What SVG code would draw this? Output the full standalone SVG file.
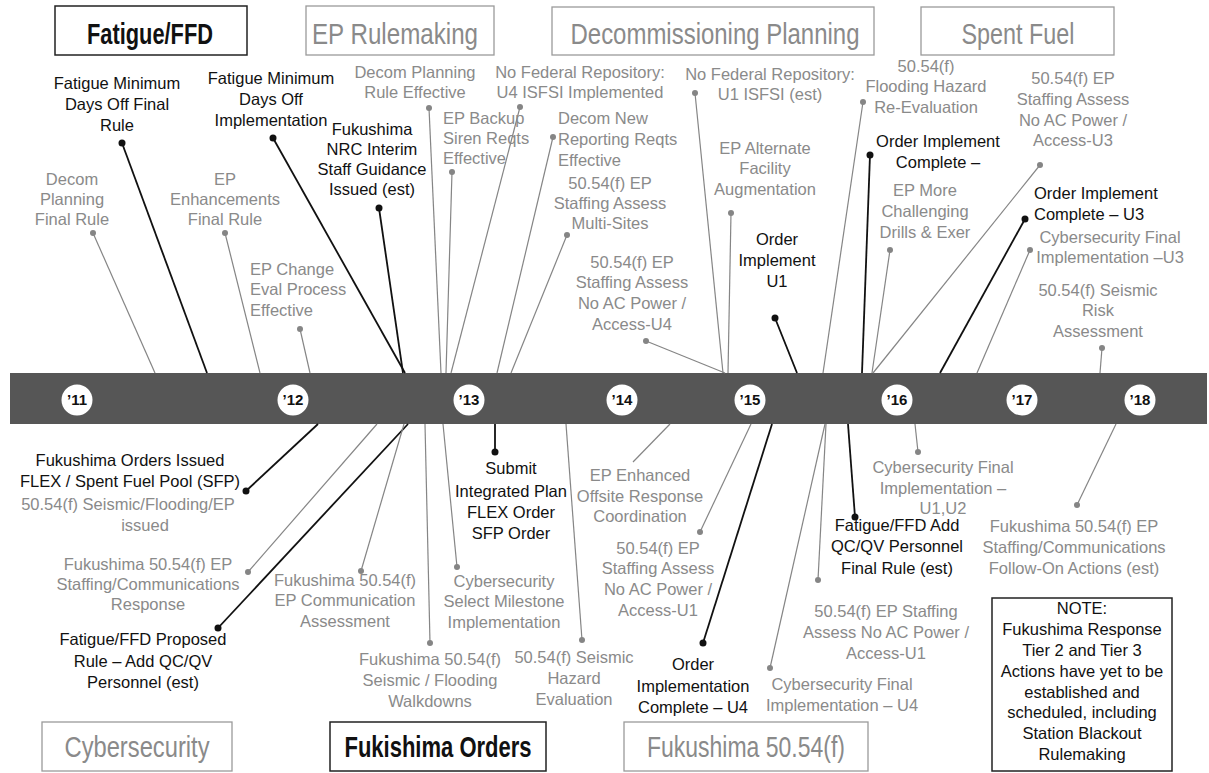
<svg xmlns="http://www.w3.org/2000/svg" width="1209" height="773" viewBox="0 0 1209 773">
<style>
text{font-family:"Liberation Sans",Arial,sans-serif;font-size:16.5px;text-anchor:middle}
.k{fill:#111}
.g{fill:#8a8a8a}
.s{text-anchor:start}
.h{font-size:30px}
.hk{fill:#111;font-weight:bold}
.hg{fill:#8a8a8a}
.bk{fill:#fff;stroke:#222;stroke-width:1.5}
.bg{fill:#fff;stroke:#9a9a9a;stroke-width:1.3}
.ck{stroke:#111;stroke-width:1.8;fill:none}
.cg{stroke:#858585;stroke-width:1.2;fill:none}
.dk{fill:#111}
.dg{fill:#858585}
.yr{fill:#fff}
.yt{font-size:15px;font-weight:bold;fill:#111}
</style>
<rect width="1209" height="773" fill="#fff"/>

<!-- timeline bar -->
<g id="timeline">
<rect x="10" y="373" width="1197" height="51" fill="#565656"/>
<circle class="yr" cx="77" cy="400" r="15.5"/><text class="yt" x="77" y="405">’11</text>
<circle class="yr" cx="293" cy="400" r="15.5"/><text class="yt" x="293" y="405">’12</text>
<circle class="yr" cx="469" cy="400" r="15.5"/><text class="yt" x="469" y="405">’13</text>
<circle class="yr" cx="622" cy="400" r="15.5"/><text class="yt" x="622" y="405">’14</text>
<circle class="yr" cx="750" cy="400" r="15.5"/><text class="yt" x="750" y="405">’15</text>
<circle class="yr" cx="897" cy="400" r="15.5"/><text class="yt" x="897" y="405">’16</text>
<circle class="yr" cx="1022" cy="400" r="15.5"/><text class="yt" x="1022" y="405">’17</text>
<circle class="yr" cx="1140" cy="400" r="15.5"/><text class="yt" x="1140" y="405">’18</text>
</g>

<!-- category headers -->
<g id="hdr-fatigue"><rect class="bk" x="55" y="6" width="192" height="49"/><text class="h hk" x="150" y="44" textLength="126" lengthAdjust="spacingAndGlyphs">Fatigue/FFD</text></g>
<g id="hdr-ep"><rect class="bg" x="306" y="6" width="188" height="49"/><text class="h hg" x="395" y="44" textLength="166" lengthAdjust="spacingAndGlyphs">EP Rulemaking</text></g>
<g id="hdr-decom"><rect class="bg" x="552" y="7" width="322" height="48"/><text class="h hg" x="715" y="44" textLength="289" lengthAdjust="spacingAndGlyphs">Decommissioning Planning</text></g>
<g id="hdr-spent"><rect class="bg" x="921" y="7" width="193" height="48"/><text class="h hg" x="1018" y="44" textLength="113" lengthAdjust="spacingAndGlyphs">Spent Fuel</text></g>
<g id="hdr-cyber"><rect class="bg" x="42" y="722" width="190" height="49"/><text class="h hg" x="137" y="757" textLength="145" lengthAdjust="spacingAndGlyphs">Cybersecurity</text></g>
<g id="hdr-orders"><rect class="bk" x="330" y="722" width="216" height="49"/><text class="h hk" x="438" y="757" textLength="187" lengthAdjust="spacingAndGlyphs">Fukishima Orders</text></g>
<g id="hdr-5054"><rect class="bg" x="624" y="722" width="244" height="49"/><text class="h hg" x="746" y="757" textLength="198" lengthAdjust="spacingAndGlyphs">Fukushima 50.54(f)</text></g>

<!-- connectors -->
<g id="connectors">
<line class="ck" x1="122" y1="143" x2="207" y2="373"/>
<line class="ck" x1="273" y1="138" x2="405" y2="373"/>
<line class="cg" x1="93" y1="233" x2="155" y2="373"/>
<line class="cg" x1="225" y1="233" x2="260" y2="373"/>
<line class="cg" x1="300" y1="329" x2="310" y2="373"/>
<line class="ck" x1="379" y1="208" x2="403" y2="373"/>
<line class="cg" x1="429" y1="108" x2="441" y2="373"/>
<line class="cg" x1="452" y1="172" x2="446" y2="373"/>
<line class="cg" x1="520" y1="107" x2="451" y2="373"/>
<line class="cg" x1="553" y1="137" x2="497" y2="373"/>
<line class="cg" x1="567" y1="235" x2="511" y2="373"/>
<line class="cg" x1="646" y1="341" x2="725" y2="373"/>
<line class="cg" x1="695" y1="93" x2="723" y2="373"/>
<line class="cg" x1="731" y1="213" x2="728" y2="373"/>
<line class="ck" x1="775" y1="318" x2="797" y2="373"/>
<line class="cg" x1="863" y1="102" x2="823" y2="373"/>
<line class="ck" x1="870" y1="155" x2="862" y2="373"/>
<line class="cg" x1="890" y1="250" x2="872" y2="373"/>
<line class="cg" x1="1040" y1="165" x2="873" y2="373"/>
<line class="ck" x1="1025" y1="219" x2="940" y2="373"/>
<line class="cg" x1="1030" y1="250" x2="977" y2="373"/>
<line class="cg" x1="1102" y1="348" x2="1100" y2="373"/>
<line class="ck" x1="246" y1="491" x2="318" y2="424"/>
<line class="cg" x1="248" y1="572" x2="377" y2="424"/>
<line class="ck" x1="218" y1="628" x2="408" y2="424"/>
<line class="cg" x1="361" y1="571" x2="404" y2="424"/>
<line class="cg" x1="430" y1="643" x2="425" y2="424"/>
<line class="ck" x1="495" y1="452" x2="495" y2="424"/>
<line class="cg" x1="457" y1="567" x2="443" y2="424"/>
<line class="cg" x1="582" y1="640" x2="566" y2="424"/>
<line class="cg" x1="633" y1="462" x2="670" y2="424"/>
<line class="cg" x1="700" y1="532" x2="751" y2="424"/>
<line class="ck" x1="703" y1="643" x2="772" y2="424"/>
<line class="cg" x1="770" y1="668" x2="825" y2="424"/>
<line class="cg" x1="818" y1="580" x2="826" y2="424"/>
<line class="ck" x1="855" y1="517" x2="848" y2="424"/>
<line class="cg" x1="918" y1="452" x2="915" y2="424"/>
<line class="cg" x1="1077" y1="505" x2="1116" y2="424"/>
</g>

<!-- top events -->
<g id="n1"><text class="k"><tspan x="117" y="89">Fatigue Minimum</tspan><tspan x="117" y="110">Days Off Final</tspan><tspan x="117" y="131">Rule</tspan></text><circle class="dk" cx="122" cy="143" r="3.5"/></g>
<g id="n2"><text class="k"><tspan x="271" y="84">Fatigue Minimum</tspan><tspan x="271" y="105">Days Off</tspan><tspan x="271" y="126">Implementation</tspan></text><circle class="dk" cx="273" cy="138" r="3.5"/></g>
<g id="n3"><text class="g"><tspan x="72" y="185">Decom</tspan><tspan x="72" y="205">Planning</tspan><tspan x="72" y="225">Final Rule</tspan></text><circle class="dg" cx="93" cy="233" r="3"/></g>
<g id="n4"><text class="g"><tspan x="225" y="185">EP</tspan><tspan x="225" y="205">Enhancements</tspan><tspan x="225" y="225">Final Rule</tspan></text><circle class="dg" cx="225" cy="233" r="3"/></g>
<g id="n5"><text class="g s"><tspan x="250" y="275">EP Change</tspan><tspan x="250" y="295">Eval Process</tspan><tspan x="250" y="316">Effective</tspan></text><circle class="dg" cx="300" cy="329" r="3"/></g>
<g id="n6"><text class="k"><tspan x="372" y="135">Fukushima</tspan><tspan x="372" y="155">NRC Interim</tspan><tspan x="372" y="175">Staff Guidance</tspan><tspan x="372" y="195">Issued (est)</tspan></text><circle class="dk" cx="379" cy="208" r="3.5"/></g>
<g id="n7"><text class="g"><tspan x="415" y="78">Decom Planning</tspan><tspan x="415" y="98">Rule Effective</tspan></text><circle class="dg" cx="429" cy="108" r="3"/></g>
<g id="n8"><text class="g s"><tspan x="443" y="124">EP Backup</tspan><tspan x="443" y="144">Siren Reqts</tspan><tspan x="443" y="164">Effective</tspan></text><circle class="dg" cx="452" cy="172" r="3"/></g>
<g id="n9"><text class="g"><tspan x="580" y="78">No Federal Repository:</tspan><tspan x="580" y="98">U4 ISFSI Implemented</tspan></text><circle class="dg" cx="520" cy="107" r="3"/></g>
<g id="n10"><text class="g s"><tspan x="558" y="124">Decom New</tspan><tspan x="558" y="145">Reporting Reqts</tspan><tspan x="558" y="166">Effective</tspan></text><circle class="dg" cx="553" cy="137" r="3"/></g>
<g id="n11"><text class="g"><tspan x="610" y="189">50.54(f) EP</tspan><tspan x="610" y="209">Staffing Assess</tspan><tspan x="610" y="229">Multi-Sites</tspan></text><circle class="dg" cx="567" cy="235" r="3"/></g>
<g id="n12"><text class="g"><tspan x="632" y="268">50.54(f) EP</tspan><tspan x="632" y="288">Staffing Assess</tspan><tspan x="632" y="309">No AC Power /</tspan><tspan x="632" y="330">Access-U4</tspan></text><circle class="dg" cx="646" cy="341" r="3"/></g>
<g id="n13"><text class="g"><tspan x="770" y="80">No Federal Repository:</tspan><tspan x="770" y="100">U1 ISFSI (est)</tspan></text><circle class="dg" cx="695" cy="93" r="3"/></g>
<g id="n14"><text class="g"><tspan x="765" y="154">EP Alternate</tspan><tspan x="765" y="174">Facility</tspan><tspan x="765" y="195">Augmentation</tspan></text><circle class="dg" cx="731" cy="213" r="3"/></g>
<g id="n15"><text class="k"><tspan x="777" y="245">Order</tspan><tspan x="777" y="266">Implement</tspan><tspan x="777" y="287">U1</tspan></text><circle class="dk" cx="775" cy="318" r="3.5"/></g>
<g id="n16"><text class="g"><tspan x="926" y="72">50.54(f)</tspan><tspan x="926" y="92">Flooding Hazard</tspan><tspan x="926" y="113">Re-Evaluation</tspan></text><circle class="dg" cx="863" cy="102" r="3"/></g>
<g id="n17"><text class="k"><tspan x="938" y="147">Order Implement</tspan><tspan x="938" y="168">Complete –</tspan></text><circle class="dk" cx="870" cy="155" r="3.5"/></g>
<g id="n18"><text class="g"><tspan x="925" y="196">EP More</tspan><tspan x="925" y="217">Challenging</tspan><tspan x="925" y="238">Drills &amp; Exer</tspan></text><circle class="dg" cx="890" cy="250" r="3"/></g>
<g id="n19"><text class="g"><tspan x="1073" y="84">50.54(f) EP</tspan><tspan x="1073" y="105">Staffing Assess</tspan><tspan x="1073" y="126">No AC Power /</tspan><tspan x="1073" y="146">Access-U3</tspan></text><circle class="dg" cx="1040" cy="165" r="3"/></g>
<g id="n20"><text class="k s"><tspan x="1034" y="199">Order Implement</tspan><tspan x="1034" y="220">Complete – U3</tspan></text><circle class="dk" cx="1025" cy="219" r="3.5"/></g>
<g id="n21"><text class="g"><tspan x="1110" y="243">Cybersecurity Final</tspan><tspan x="1110" y="263">Implementation –U3</tspan></text><circle class="dg" cx="1030" cy="250" r="3"/></g>
<g id="n22"><text class="g"><tspan x="1098" y="296">50.54(f) Seismic</tspan><tspan x="1098" y="316">Risk</tspan><tspan x="1098" y="337">Assessment</tspan></text><circle class="dg" cx="1102" cy="348" r="3"/></g>

<!-- bottom events -->
<g id="n23"><text class="k"><tspan x="130" y="466">Fukushima Orders Issued</tspan><tspan x="130" y="487">FLEX / Spent Fuel Pool (SFP)</tspan></text><circle class="dk" cx="246" cy="491" r="3.5"/></g>
<g id="n24"><text class="g"><tspan x="128" y="510">50.54(f) Seismic/Flooding/EP</tspan><tspan x="145" y="531">issued</tspan></text></g>
<g id="n25"><text class="g"><tspan x="148" y="570">Fukushima 50.54(f) EP</tspan><tspan x="148" y="590">Staffing/Communications</tspan><tspan x="148" y="610">Response</tspan></text><circle class="dg" cx="248" cy="572" r="3"/></g>
<g id="n26"><text class="k"><tspan x="143" y="645">Fatigue/FFD Proposed</tspan><tspan x="143" y="667">Rule – Add QC/QV</tspan><tspan x="143" y="688">Personnel (est)</tspan></text><circle class="dk" cx="218" cy="628" r="3.5"/></g>
<g id="n27"><text class="g"><tspan x="345" y="586">Fukushima 50.54(f)</tspan><tspan x="345" y="606">EP Communication</tspan><tspan x="345" y="627">Assessment</tspan></text><circle class="dg" cx="361" cy="571" r="3"/></g>
<g id="n28"><text class="g"><tspan x="430" y="665">Fukushima 50.54(f)</tspan><tspan x="430" y="686">Seismic / Flooding</tspan><tspan x="430" y="707">Walkdowns</tspan></text><circle class="dg" cx="430" cy="643" r="3"/></g>
<g id="n29"><text class="k"><tspan x="511" y="474">Submit</tspan><tspan x="511" y="497">Integrated Plan</tspan><tspan x="511" y="518">FLEX Order</tspan><tspan x="511" y="539">SFP Order</tspan></text><circle class="dk" cx="495" cy="452" r="3.5"/></g>
<g id="n30"><text class="g"><tspan x="504" y="587">Cybersecurity</tspan><tspan x="504" y="607">Select Milestone</tspan><tspan x="504" y="628">Implementation</tspan></text><circle class="dg" cx="457" cy="567" r="3"/></g>
<g id="n31"><text class="g"><tspan x="574" y="663">50.54(f) Seismic</tspan><tspan x="574" y="684">Hazard</tspan><tspan x="574" y="705">Evaluation</tspan></text><circle class="dg" cx="582" cy="640" r="3"/></g>
<g id="n32"><text class="g"><tspan x="640" y="481">EP Enhanced</tspan><tspan x="640" y="502">Offsite Response</tspan><tspan x="640" y="522">Coordination</tspan></text></g>
<g id="n33"><text class="g"><tspan x="658" y="554">50.54(f) EP</tspan><tspan x="658" y="574">Staffing Assess</tspan><tspan x="658" y="595">No AC Power /</tspan><tspan x="658" y="616">Access-U1</tspan></text><circle class="dg" cx="700" cy="532" r="3"/></g>
<g id="n34"><text class="k"><tspan x="693" y="670">Order</tspan><tspan x="693" y="692">Implementation</tspan><tspan x="693" y="713">Complete – U4</tspan></text><circle class="dk" cx="703" cy="643" r="3.5"/></g>
<g id="n35"><text class="g"><tspan x="842" y="690">Cybersecurity Final</tspan><tspan x="842" y="711">Implementation – U4</tspan></text><circle class="dg" cx="770" cy="668" r="3"/></g>
<g id="n36"><text class="g"><tspan x="886" y="617">50.54(f) EP Staffing</tspan><tspan x="886" y="638">Assess No AC Power /</tspan><tspan x="886" y="659">Access-U1</tspan></text><circle class="dg" cx="818" cy="580" r="3"/></g>
<g id="n37"><text class="k"><tspan x="897" y="531">Fatigue/FFD Add</tspan><tspan x="897" y="552">QC/QV Personnel</tspan><tspan x="897" y="574">Final Rule (est)</tspan></text><circle class="dk" cx="855" cy="517" r="3.5"/></g>
<g id="n38"><text class="g"><tspan x="943" y="473">Cybersecurity Final</tspan><tspan x="943" y="494">Implementation –</tspan><tspan x="943" y="514">U1,U2</tspan></text><circle class="dg" cx="918" cy="452" r="3"/></g>
<g id="n39"><text class="g"><tspan x="1074" y="532">Fukushima 50.54(f) EP</tspan><tspan x="1074" y="553">Staffing/Communications</tspan><tspan x="1074" y="574">Follow-On Actions (est)</tspan></text><circle class="dg" cx="1077" cy="505" r="3"/></g>

<g id="note"><rect class="bk" x="992" y="598" width="180" height="173"/>
<text class="k"><tspan x="1082" y="614">NOTE:</tspan><tspan x="1082" y="635">Fukushima Response</tspan><tspan x="1082" y="656">Tier 2 and Tier 3</tspan><tspan x="1082" y="677">Actions have yet to be</tspan><tspan x="1082" y="698">established and</tspan><tspan x="1082" y="718">scheduled, including</tspan><tspan x="1082" y="739">Station Blackout</tspan><tspan x="1082" y="760">Rulemaking</tspan></text></g>
</svg>
